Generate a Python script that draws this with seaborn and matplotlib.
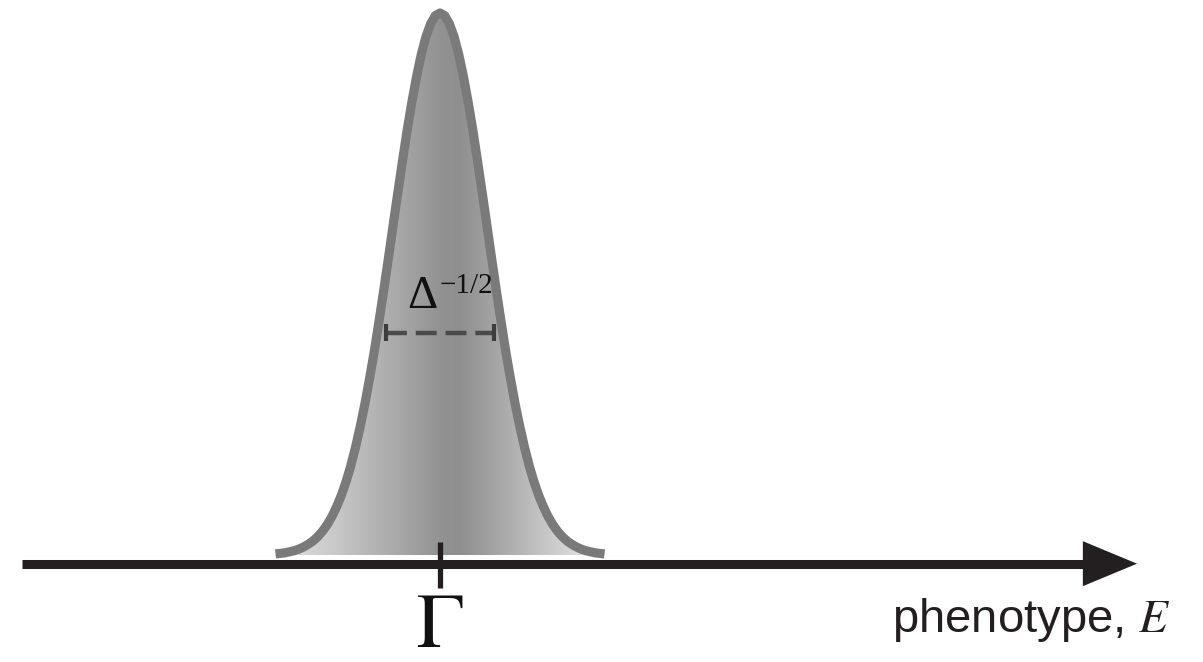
import numpy as np
import pandas as pd
import matplotlib
matplotlib.use("Agg")
import matplotlib.pyplot as plt
from matplotlib.colors import LinearSegmentedColormap
from matplotlib.patches import Polygon
import seaborn as sns

# Phenotype distribution: peak position, width marker and sampled profile
GAMMA = 0.0                 # mean phenotype
WIDTH = 2.3                 # length of the Delta^{-1/2} width marker (E units)
WIDTH_LEVEL = 0.41          # relative height at which the width marker sits
PROFILE_OFFSET = [0.0, 0.1, 0.2, 0.3, 0.4, 0.5, 0.6, 0.7, 0.8, 0.9,
                  1.0, 1.1, 1.2, 1.3, 1.4, 1.5, 1.6, 1.7, 1.8, 1.9,
                  2.0, 2.1, 2.2, 2.3, 2.4, 2.5, 2.6, 2.7, 2.8, 2.9,
                  3.0, 3.1, 3.2, 3.3, 3.4, 3.5]
PROFILE_HEIGHT = [1.000, 0.995, 0.980, 0.956, 0.923, 0.882, 0.835, 0.783, 0.726, 0.667,
                  0.607, 0.546, 0.487, 0.430, 0.375, 0.325, 0.278, 0.236, 0.198, 0.164,
                  0.135, 0.110, 0.089, 0.071, 0.056, 0.044, 0.034, 0.026, 0.020, 0.015,
                  0.011, 0.008, 0.006, 0.004, 0.003, 0.002]
AXIS_LABEL = "phenotype, $E$"
MEAN_LABEL = r"$\Gamma$"

sns.set_theme(style="white")
plt.rcParams["mathtext.fontset"] = "stix"

off = np.array(PROFILE_OFFSET)
hgt = np.array(PROFILE_HEIGHT)
curve = pd.DataFrame({
    "E": np.concatenate([GAMMA - off[::-1], GAMMA + off[1:]]),
    "p": np.concatenate([hgt[::-1], hgt[1:]]),
})

fig = plt.figure(figsize=(12.03, 6.62), dpi=100)
ax = fig.add_axes([0, 0, 1, 1])
ax.set_xlim(-9.362, 16.234)
ax.set_ylim(-0.1974, 1.024)
ax.axis("off")

# gradient fill under the curve
shade = LinearSegmentedColormap.from_list(
    "shade",
    [(0.00, "#e2e2e2"), (0.15, "#cdcdcd"), (0.30, "#b4b4b4"), (0.42, "#a0a0a0"),
     (0.50, "#929292"), (0.56, "#8f8f8f"), (0.66, "#a3a3a3"), (0.80, "#c2c2c2"),
     (0.92, "#dcdcdc"), (1.00, "#efefef")])
lo, hi = curve["E"].min(), curve["E"].max()
grad = np.linspace(0, 1, 512)[None, :]
img = ax.imshow(grad, cmap=shade, extent=[lo, hi, 0, 1.0], aspect="auto",
                origin="lower", zorder=1, interpolation="bicubic")
poly = Polygon(np.column_stack([np.r_[curve["E"], hi, lo], np.r_[curve["p"], 0, 0]]),
               closed=True, transform=ax.transData, facecolor="none", edgecolor="none")
ax.add_patch(poly)
img.set_clip_path(poly)

# curve outline
sns.lineplot(data=curve, x="E", y="p", ax=ax, color="#7a7a7a", linewidth=6.6,
             solid_capstyle="butt", solid_joinstyle="round", zorder=3, sort=True)

# phenotype axis with arrow
axis_y = -0.016
ax.plot([-8.894, 14.0], [axis_y, axis_y], color="#231f20", lw=6.5,
        solid_capstyle="butt", zorder=4)
ax.annotate("", xy=(14.83, axis_y), xytext=(13.68, axis_y),
            arrowprops=dict(arrowstyle="-|>,head_length=3.9,head_width=1.62",
                            mutation_scale=10, color="#231f20", lw=0,
                            shrinkA=0, shrinkB=0), zorder=5)

# mean marker
ax.plot([GAMMA, GAMMA], [0.024, -0.061], color="#231f20", lw=3.8,
        solid_capstyle="butt", zorder=5)
ax.text(GAMMA, -0.1704, MEAN_LABEL, ha="center", va="baseline",
        fontsize=57, color="#111111")

ax.text(9.62, -0.142, AXIS_LABEL, ha="left", va="baseline", fontsize=34,
        family="Liberation Sans", color="#231f20")

# width marker
x0, x1 = GAMMA - WIDTH / 2, GAMMA + WIDTH / 2
ax.plot([x0, x1], [WIDTH_LEVEL, WIDTH_LEVEL], color="#4a4a4a", lw=3.2,
        dashes=(4.7, 2.0), solid_capstyle="butt", dash_capstyle="butt", zorder=6)
for xe in (x0, x1):
    ax.plot([xe, xe], [WIDTH_LEVEL + 0.016, WIDTH_LEVEL - 0.016], color="#3d3d3d",
            lw=3.0, solid_capstyle="butt", zorder=6)
ax.text(GAMMA - 0.06, 0.4557, "\u0394", ha="right", va="baseline", fontsize=34,
        family="Liberation Serif", color="#111111", zorder=7)
ax.text(GAMMA - 0.02, 0.4834, "\u22121/2", ha="left", va="baseline", fontsize=21,
        family="Liberation Serif", color="#111111", zorder=7)

fig.savefig("out.png", dpi=100)
